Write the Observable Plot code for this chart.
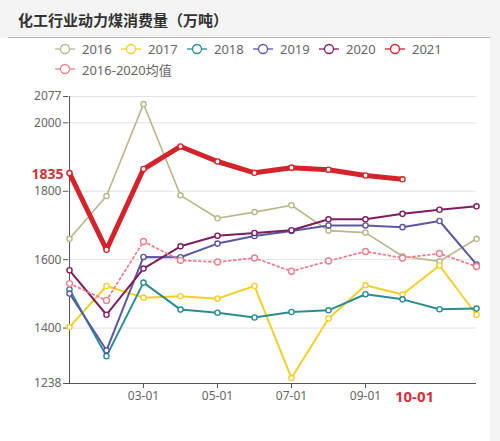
<!DOCTYPE html>
<html>
<head>
<meta charset="utf-8">
<script src="https://cdn.jsdelivr.net/npm/d3@7"></script>
<script src="https://cdn.jsdelivr.net/npm/@observablehq/plot@0.6"></script>
<style>
  body { margin: 0; width: 500px; height: 441px; position: relative; background: #fff; overflow: hidden;
         font-family: "Noto Sans", "Noto Sans CJK SC", sans-serif; }
  #head { position: absolute; left: 0; top: 0; width: 500px; height: 38px; background: #f4f4f4; }
  #head .rule { position: absolute; left: 8px; right: 10px; bottom: 0; border-bottom: 1px solid #b8b8b8; }
  #title { position: absolute; left: 18px; top: 9px; font-size: 15px; font-weight: 700; color: #333;
           font-family: "Noto Sans CJK SC", sans-serif; }
  #side { position: absolute; right: 0; top: 38px; width: 10px; bottom: 0; background: #f4f4f4; }
  #legend { position: absolute; left: 55px; top: 39px; width: 420px; display: flex; flex-wrap: wrap; }
  .item { display: flex; align-items: center; width: 66px; height: 20px; font-size: 13px; color: #666;
          white-space: nowrap; font-family: "Noto Sans", "Noto Sans CJK SC", sans-serif; }
  .item svg { margin-right: 7px; }
  #chart { position: absolute; left: 0; top: 80px; }
</style>
</head>
<body>
<div id="head"><div id="title">化工行业动力煤消费量（万吨）</div><div class="rule"></div></div>
<div id="side"></div>
<div id="legend"></div>
<div id="chart"></div>
<script>
const MONTHS = ["01-01", "02-01", "03-01", "04-01", "05-01", "06-01", "07-01", "08-01", "09-01", "10-01", "11-01", "12-01"];
const X_LABELS = ["03-01", "05-01", "07-01", "09-01"];
const Y_TICKS = [1238, 1400, 1600, 1800, 2000, 2077];

const Y2016 = [1661, 1786, 2055, 1788, 1721, 1739, 1759, 1685, 1679, 1610, 1595, 1661];
const Y2017 = [1403, 1523, 1489, 1493, 1486, 1523, 1254, 1428, 1525, 1498, 1583, 1439];
const Y2018 = [1513, 1318, 1533, 1454, 1445, 1431, 1447, 1452, 1499, 1484, 1455, 1457];
const Y2019 = [1501, 1335, 1608, 1607, 1647, 1669, 1684, 1700, 1700, 1695, 1713, 1586];
const Y2020 = [1569, 1439, 1574, 1639, 1670, 1678, 1686, 1718, 1718, 1734, 1746, 1756];
const Y2021 = [1853, 1629, 1865, 1931, 1887, 1854, 1869, 1863, 1846, 1835];
const MEAN = [1530, 1481, 1653, 1598, 1593, 1605, 1566, 1596, 1624, 1605, 1618, 1580];

const LATEST_VALUE = 1835;
const LATEST_MONTH = "10-01";

const SERIES = [
  { name: "2016", values: Y2016, color: "#b9b68a", width: 1.6 },
  { name: "2017", values: Y2017, color: "#f3cf2c", width: 2 },
  { name: "2018", values: Y2018, color: "#2a8d90", width: 2 },
  { name: "2019", values: Y2019, color: "#5b58a4", width: 2 },
  { name: "2020", values: Y2020, color: "#7e1e60", width: 2 },
  { name: "2016-2020均值", values: MEAN, color: "#e8818d", width: 1.8, dash: "2 3" },
  { name: "2021", values: Y2021, color: "#d4232a", width: 5 },
];
const LEGEND_ORDER = ["2016", "2017", "2018", "2019", "2020", "2021", "2016-2020均值"];

const rows = SERIES.flatMap(s => s.values.map((v, i) => ({ series: s.name, month: MONTHS[i], value: v })));

// legend
const legend = document.getElementById("legend");
for (const name of LEGEND_ORDER) {
  const s = SERIES.find(d => d.name === name);
  const item = document.createElement("div");
  item.className = "item";
  item.innerHTML = `<svg width="20" height="12"><line x1="0" x2="20" y1="6" y2="6" stroke="${s.color}" stroke-width="1.3"/>` +
    `<circle cx="10" cy="6" r="4.5" fill="#fff" stroke="${s.color}" stroke-width="1.3"/></svg>${s.name}`;
  if (name === "2016-2020均值") item.style.width = "120px";
  legend.append(item);
}

const marks = [
  Plot.gridY(Y_TICKS.filter(v => v > 1238), { stroke: "#e2e2e2", strokeOpacity: 1 }),
  Plot.ruleY([1238], { stroke: "#555" }),
  Plot.ruleX([MONTHS[0]], { stroke: "#555" }),
  Plot.axisY(Y_TICKS, { tickSize: 5, tickPadding: 2, fontSize: 12, color: "#666", stroke: "#555",
    label: null, tickFormat: d => String(d) }),
  Plot.axisX(X_LABELS, { tickSize: 5, tickPadding: 3, fontSize: 12, color: "#666", stroke: "#555", label: null }),
];
for (const s of SERIES) {
  const data = rows.filter(r => r.series === s.name);
  marks.push(
    Plot.line(data, { x: "month", y: "value", stroke: s.color, strokeWidth: s.width, strokeDasharray: s.dash }),
    Plot.dot(data, { x: "month", y: "value", fill: "#fff", stroke: s.color, strokeWidth: 1.4, r: s.dash ? 3 : 2.6 })
  );
}
marks.push(
  Plot.text([LATEST_VALUE], { x: () => MONTHS[0], y: d => d, text: d => String(d), dx: -6, dy: -5, textAnchor: "end",
    fill: "#d0323a", fontSize: 14, fontWeight: "bold" }),
  Plot.text([LATEST_MONTH], { x: d => d, y: () => 1238, text: d => d, dx: 12, dy: 14, lineAnchor: "middle",
    fill: "#d0323a", fontSize: 15, fontWeight: "bold" })
);

const plot = Plot.plot({
  width: 500,
  height: 343,
  marginLeft: 68,
  marginRight: 24,
  marginTop: 16,
  marginBottom: 40,
  x: { type: "point", domain: MONTHS, padding: 0, axis: null },
  y: { domain: [1238, 2077], axis: null },
  style: { fontFamily: '"Noto Sans", "Noto Sans CJK SC", sans-serif', background: "transparent", overflow: "visible" },
  marks,
});
document.getElementById("chart").append(plot);
</script>
</body>
</html>
